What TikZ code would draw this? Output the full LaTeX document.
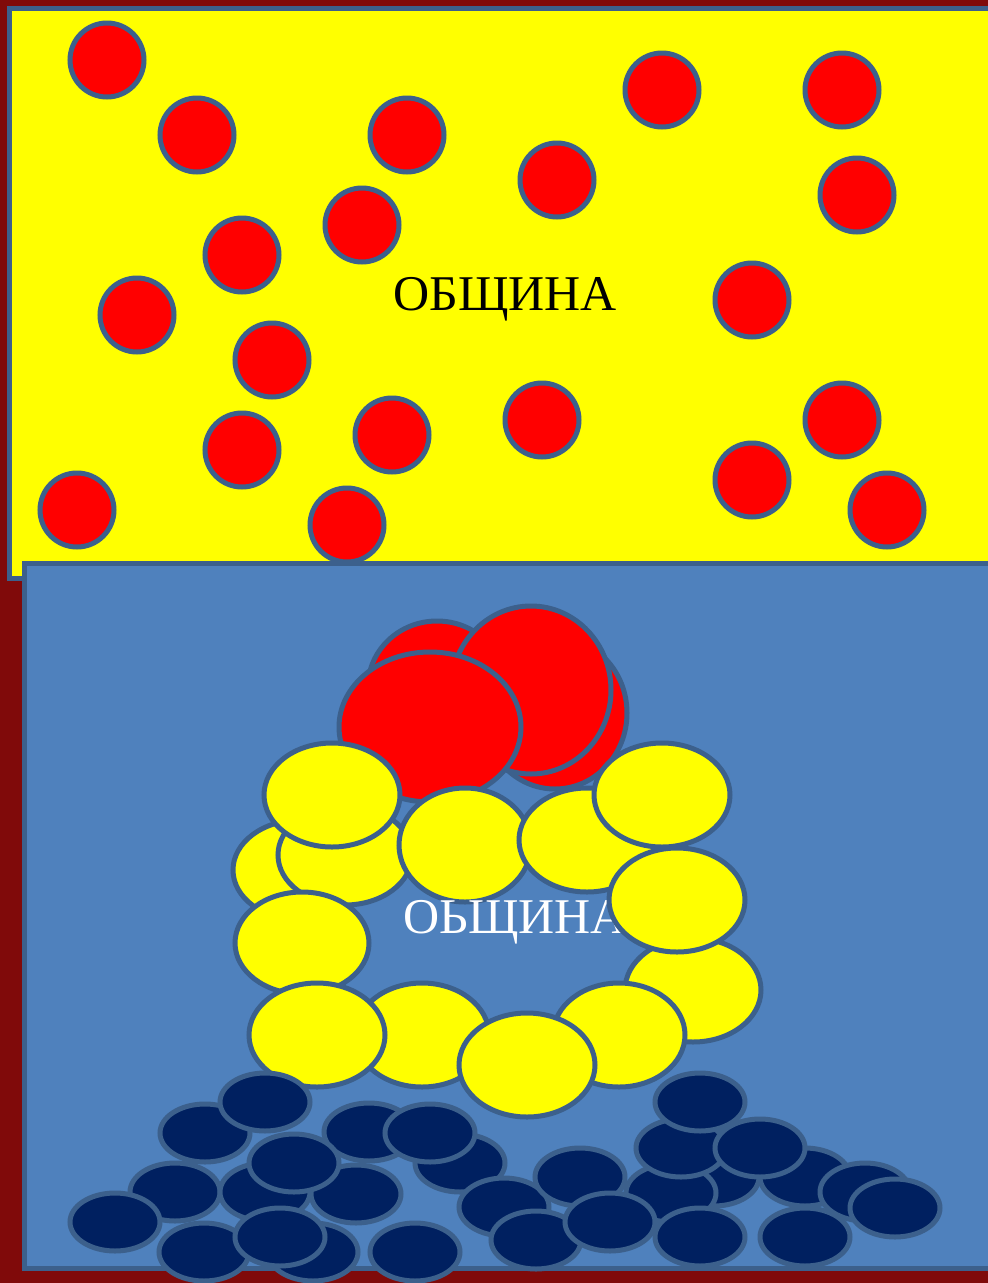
\documentclass[tikz,border=0pt]{standalone}
\usepackage{fontspec}
\setmainfont{Liberation Serif}
\definecolor{bgred}{RGB}{128,10,10}
\definecolor{edgeblue}{RGB}{60,96,140}
\definecolor{panelblue}{RGB}{79,129,189}
\definecolor{navyball}{RGB}{0,32,96}
\definecolor{pureyellow}{RGB}{255,255,0}
\definecolor{purered}{RGB}{255,0,0}
\begin{document}
\begin{tikzpicture}[x=1pt,y=-1pt,
  redball/.style={fill=purered,draw=edgeblue,line width=5pt},
  yelball/.style={fill=pureyellow,draw=edgeblue,line width=5pt},
  navball/.style={fill=navyball,draw=edgeblue,line width=5pt},
  panel/.style={draw=edgeblue,line width=5pt},
  bigtext/.style={font=\fontsize{50}{60}\selectfont}]
\fill[bgred] (0,0) rectangle (988,1283);
\useasboundingbox (0,0) rectangle (988,1283);
% top yellow panel
\draw[panel,fill=pureyellow] (9.5,8.5) rectangle (1000,578);
\foreach \cx/\cy in {107/60,197/135,407/135,557/180,662/90,842/90,857/195,362/225,242/255,137/315,752/300,272/360,242/450,392/435,542/420,842/420,752/480,77/510,347/525,887/510}
  \draw[redball] (\cx,\cy) circle[radius=37pt];
\node[bigtext,anchor=base] (toptitle) at (505,310) {ОБЩИНА};
% bottom blue panel
\draw[panel,fill=panelblue] (24.5,563.5) rectangle (1000,1268);
% red cluster
\draw[redball] (437,687) ellipse[x radius=69pt,y radius=66pt];
\draw[redball] (555,713) ellipse[x radius=72pt,y radius=76pt];
\draw[redball] (531,690) ellipse[x radius=80pt,y radius=84pt];
\draw[redball] (430,727) ellipse[x radius=91pt,y radius=75pt];
% yellow ring
\draw[yelball] (300,870) ellipse[x radius=67pt,y radius=50pt];
\draw[yelball] (345,855) ellipse[x radius=67pt,y radius=50pt];
\draw[yelball] (332,795) ellipse[x radius=68pt,y radius=52pt];
\draw[yelball] (465,845) ellipse[x radius=66pt,y radius=57pt];
\draw[yelball] (587,840) ellipse[x radius=68pt,y radius=52pt];
\draw[yelball] (662,795) ellipse[x radius=68pt,y radius=52pt];
\node[bigtext,anchor=base west,text=white] (bottitle) at (400,933) {ОЬЩИНА};
\draw[yelball] (693,990) ellipse[x radius=68pt,y radius=52pt];
\draw[yelball] (677,900) ellipse[x radius=68pt,y radius=52pt];
\draw[yelball] (302,943) ellipse[x radius=67pt,y radius=51pt];
\draw[yelball] (422,1035) ellipse[x radius=67pt,y radius=52pt];
\draw[yelball] (317,1035) ellipse[x radius=68pt,y radius=52pt];
\draw[yelball] (619,1035) ellipse[x radius=66pt,y radius=52pt];
\draw[yelball] (527,1065) ellipse[x radius=68pt,y radius=52pt];
% navy pile
\foreach \cx/\cy in {205/1133,265/1102,175/1192,115/1222,265/1192,356/1194,369/1132,294/1163,460/1163,430/1133,313/1252,204/1252,280/1237,415/1252,504/1207,580/1177,536/1240,714/1177,671/1193,610/1222,805/1177,865/1192,895/1208,681/1148,760/1148,700/1102,700/1237,805/1237}
  \draw[navball] (\cx,\cy) ellipse[x radius=45pt,y radius=29pt];
\end{tikzpicture}
\end{document}
